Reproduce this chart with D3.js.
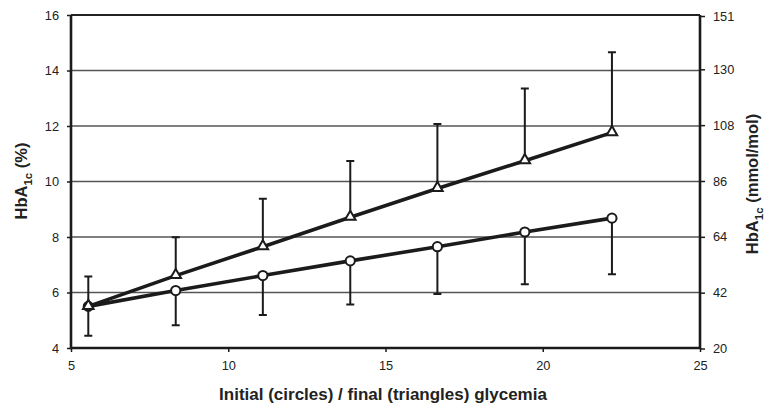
<!DOCTYPE html>
<html>
<head>
<meta charset="utf-8">
<script src="https://cdn.jsdelivr.net/npm/d3@7/dist/d3.min.js"></script>
<style>
  html, body { margin: 0; padding: 0; background: #fff; }
  svg { display: block; font-family: "Liberation Sans", Arial, Helvetica, sans-serif; }
</style>
</head>
<body>
<svg id="chart" width="768" height="407"></svg>
<script>
// Glycemia (mmol/L) at each step
const glycemia = [5.55, 8.33, 11.1, 13.88, 16.65, 19.43, 22.2];
// HbA1c (%) from initial glycemia (circles) and final glycemia (triangles)
const hbaInitial = [5.5, 6.07, 6.61, 7.14, 7.65, 8.18, 8.68];
const hbaFinal = [5.5, 6.61, 7.65, 8.71, 9.75, 10.75, 11.76];
// Whisker ends: upward from the triangles, downward from the circles
const finalUpper = [6.58, 7.99, 9.38, 10.74, 12.07, 13.35, 14.66];
const initialLower = [4.44, 4.82, 5.19, 5.57, 5.95, 6.30, 6.66];

const xTicks = [5, 10, 15, 20, 25];
const pctTicks = [4, 6, 8, 10, 12, 14, 16];
const mmolTicks = [20, 42, 64, 86, 108, 130, 151];

const svg = d3.select("#chart");
const m = { left: 71, right: 700, top: 15, bottom: 348 };

const x = d3.scaleLinear().domain([5, 25]).range([m.left, m.right]);
const y = d3.scaleLinear().domain([4, 16]).range([m.bottom, m.top]);
// mmol/mol = 10.929 * (% - 2.15)
const yR = d3.scaleLinear().domain([20.2, 151.4]).range([m.bottom, m.top]);

const ink = "#1b1b1b";

// horizontal grid lines
svg.append("g")
  .selectAll("line")
  .data(pctTicks.filter(d => d > 4))
  .join("line")
  .attr("x1", m.left).attr("x2", m.right)
  .attr("y1", d => y(d)).attr("y2", d => y(d))
  .attr("stroke", d => d === 16 ? "#222" : "#555")
  .attr("stroke-width", d => d === 16 ? 2 : 1.4);

// axes
const leftAxis = d3.axisLeft(y).tickValues(pctTicks).tickSize(4).tickPadding(8);
const rightAxis = d3.axisRight(yR).tickValues(mmolTicks).tickSize(5).tickPadding(8);
const bottomAxis = d3.axisBottom(x).tickValues(xTicks).tickSize(4).tickPadding(8);

function styleAxis(g) {
  g.select(".domain").remove();
  g.selectAll(".tick line").attr("stroke", ink).attr("stroke-width", 1.5);
  g.selectAll(".tick text")
    .attr("fill", "#222")
    .style("font-size", "12.8px")
    .style("font-family", "'Liberation Sans', Arial, sans-serif");
}

svg.append("g").attr("transform", `translate(${m.left},0)`).call(leftAxis).call(styleAxis);
svg.append("g").attr("transform", `translate(${m.right},0)`).call(rightAxis).call(styleAxis);
svg.append("g").attr("transform", `translate(0,${m.bottom})`).call(bottomAxis).call(styleAxis)
  .selectAll(".tick text").attr("dy", "0.8em");

// frame: left, bottom, right
svg.append("path")
  .attr("d", `M${m.left},${m.top}V${m.bottom}H${m.right}V${m.top}`)
  .attr("fill", "none").attr("stroke", ink).attr("stroke-width", 2.6);

// error bars
const capW = 4;
const bars = svg.append("g").attr("stroke", ink).attr("stroke-width", 2).attr("fill", "none");
glycemia.forEach((g, i) => {
  const cx = x(g);
  bars.append("path").attr("d",
    `M${cx},${y(hbaFinal[i])}V${y(finalUpper[i])}M${cx - capW},${y(finalUpper[i])}H${cx + capW}`);
  bars.append("path").attr("d",
    `M${cx},${y(hbaInitial[i])}V${y(initialLower[i])}M${cx - capW},${y(initialLower[i])}H${cx + capW}`);
});

// series lines
const line = d3.line().x((d, i) => x(glycemia[i])).y(d => y(d));
svg.append("path").datum(hbaInitial).attr("d", line)
  .attr("fill", "none").attr("stroke", ink).attr("stroke-width", 3.6).attr("stroke-linejoin", "round");
svg.append("path").datum(hbaFinal).attr("d", line)
  .attr("fill", "none").attr("stroke", ink).attr("stroke-width", 3.6).attr("stroke-linejoin", "round");

// circle markers (initial)
svg.append("g").selectAll("circle")
  .data(hbaInitial)
  .join("circle")
  .attr("cx", (d, i) => x(glycemia[i]))
  .attr("cy", d => y(d))
  .attr("r", 4.6)
  .attr("fill", "#fff").attr("stroke", ink).attr("stroke-width", 2);

// triangle markers (final)
const tri = d3.symbol().type(d3.symbolTriangle).size(48);
svg.append("g").selectAll("path")
  .data(hbaFinal)
  .join("path")
  .attr("d", tri)
  .attr("transform", (d, i) => `translate(${x(glycemia[i])},${y(d) - 0.5})`)
  .attr("fill", "#fff").attr("stroke", ink).attr("stroke-width", 2).attr("stroke-linejoin", "miter");

// axis titles
svg.append("text")
  .attr("x", 383).attr("y", 400)
  .attr("text-anchor", "middle")
  .style("font-size", "17px").style("font-weight", "bold").attr("fill", "#222")
  .text("Initial (circles) / final (triangles) glycemia");

function yTitle(tx, ty, unit, size) {
  const t = svg.append("text")
    .attr("transform", `translate(${tx},${ty}) rotate(-90)`)
    .attr("text-anchor", "middle")
    .style("font-size", size + "px").style("font-weight", "bold").attr("fill", "#222");
  t.append("tspan").text("HbA");
  t.append("tspan").attr("dy", size * 0.3).style("font-size", (size * 0.7) + "px").text("1c");
  t.append("tspan").attr("dy", -size * 0.3).text(" " + unit);
}
yTitle(27, 181, "(%)", 16.5);
yTitle(758, 184, "(mmol/mol)", 16.5);
</script>
</body>
</html>
